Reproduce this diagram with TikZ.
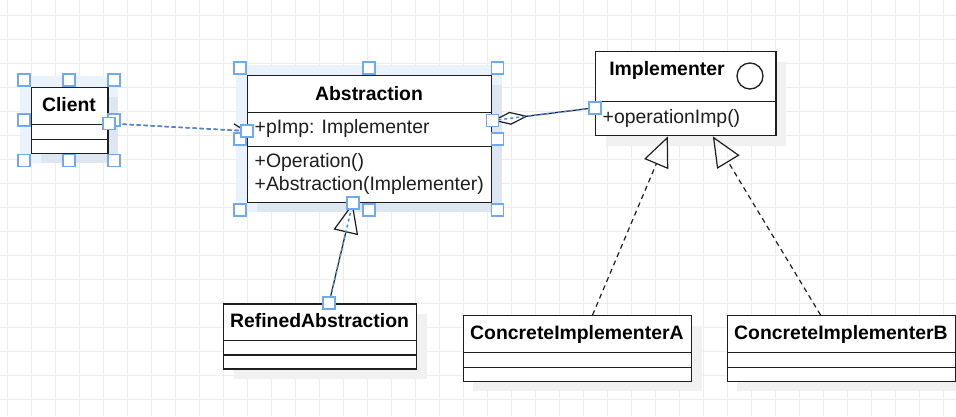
\documentclass[tikz,border=0pt]{standalone}
\usepackage{fontspec}
\setmainfont{Liberation Sans}
\usetikzlibrary{arrows.meta,calc}
\definecolor{gridc}{HTML}{EDEDED}
\definecolor{shadc}{HTML}{F1F1F1}
\definecolor{selc}{HTML}{EAF2FD}
\definecolor{selshad}{HTML}{DDE6F1}
\definecolor{hblue}{HTML}{6FA8F5}
\definecolor{eblue}{HTML}{4A88E0}
\definecolor{ink}{HTML}{1E1E1E}
\begin{document}
\begin{tikzpicture}[x=1pt,y=-1pt,
  cls/.style={draw=ink, line width=1.4pt, fill=white, inner sep=0pt, anchor=north west},
  ctitle/.style={font=\fontsize{19.4}{23}\selectfont\bfseries, anchor=base, inner sep=0pt, text=black},
  member/.style={font=\fontsize{19.4}{23}\selectfont, anchor=base west, inner sep=0pt, text=ink},
  cline/.style={draw=ink, line width=1.4pt},
  hdl/.style={draw=hblue, fill=white, line width=1.8pt, minimum size=12pt, inner sep=0pt},
  selline/.style={draw=eblue, line width=1.5pt, dash pattern=on 3pt off 3pt},
  edge/.style={draw=ink, line width=1.2pt},
  dep/.style={edge, dash pattern=on 5pt off 4pt}]
\clip (0,0) rectangle (956,416);
\fill[white] (0,0) rectangle (956,416);
% grid
\foreach \i in {0,...,39} \draw[gridc, line width=1pt] ({7.7+24*\i},0) -- ({7.7+24*\i},416);
\foreach \j in {0,...,16} \draw[gridc, line width=1pt] (0,{15.3+24*\j}) -- (956,{15.3+24*\j});
% selection highlights and shadows
\fill[selc] (20.2,76.2) rectangle (117.8,162.7);
\fill[selshad] (40.7,96.7) rectangle (117.8,162.7);
\fill[selc] (236.2,64.5) rectangle (501.5,211.7);
\fill[selshad] (256.7,85) rectangle (501.5,211.7);
\fill[shadc] (605.5,61.5) rectangle (786,145.5);
\fill[shadc] (233.5,313.8) rectangle (426.5,378.8);
\fill[shadc] (473.2,325.5) rectangle (701.5,391.2);
\fill[shadc] (737.2,325.5) rectangle (965.5,391.2);
% classes
\node[cls, minimum width=76.6pt, minimum height=66pt] (client) at (30.7,86.7) {};
\draw[cline] (client.west |- 0,124.3) -- (client.east |- 0,124.3);
\draw[cline] (client.west |- 0,139.3) -- (client.east |- 0,139.3);
\node[ctitle] (clientT) at (69,111.8) {Client};

\node[cls, minimum width=244.3pt, minimum height=126.7pt] (abs) at (246.7,75) {};
\draw[cline] (abs.west |- 0,112.3) -- (abs.east |- 0,112.3);
\draw[cline] (abs.west |- 0,146.7) -- (abs.east |- 0,146.7);
\node[ctitle] (absT) at (369,100) {Abstraction};
\node[member] (absA) at (254.5,133.3) {+pImp: Implementer};
\node[member] (absM1) at (254.5,167.8) {+Operation()};
\node[member] (absM2) at (254.5,190.3) {+Abstraction(Implementer)};

\node[cls, minimum width=180.3pt, minimum height=84pt] (impl) at (595,51) {};
\draw[cline] (impl.west |- 0,101.7) -- (impl.east |- 0,101.7);
\node[ctitle] (implT) at (667,75.7) {Implementer};
\node[circle, draw=ink, line width=1.3pt, minimum size=26pt, inner sep=0pt] (implC) at (750,76) {};
\node[member] (implM) at (602.5,123) {+operationImp()};

\node[cls, minimum width=193pt, minimum height=65pt] (ref) at (223,303.3) {};
\draw[cline] (ref.west |- 0,340.7) -- (ref.east |- 0,340.7);
\draw[cline] (ref.west |- 0,355) -- (ref.east |- 0,355);
\node[ctitle] (refT) at (319.5,327.3) {RefinedAbstraction};

\node[cls, minimum width=228.3pt, minimum height=65.7pt] (ca) at (462.7,315) {};
\draw[cline] (ca.west |- 0,352.3) -- (ca.east |- 0,352.3);
\draw[cline] (ca.west |- 0,367.3) -- (ca.east |- 0,367.3);
\node[ctitle] (caT) at (576.9,339.3) {ConcreteImplementerA};

\node[cls, minimum width=228.3pt, minimum height=65.7pt] (cb) at (726.7,315) {};
\draw[cline] (cb.west |- 0,352.3) -- (cb.east |- 0,352.3);
\draw[cline] (cb.west |- 0,367.3) -- (cb.east |- 0,367.3);
\node[ctitle] (cbT) at (840.9,339.3) {ConcreteImplementerB};

% connectors
\draw[edge, dash pattern=on 4pt off 3pt, -{Straight Barb[length=12pt,width=13pt,line width=1.2pt]}] ([yshift=-3pt]client.east) -- ([yshift=8pt]abs.west);
\draw[selline, dash pattern=on 4pt off 3pt, shorten >=4pt] ([yshift=-3pt]client.east) -- ([yshift=8pt]abs.west);

\draw[edge, {Diamond[open,length=36pt,width=13pt,line width=1.2pt]}-] ([yshift=18.5pt]abs.east) -- ([yshift=-14pt]impl.west);
\draw[selline] ([yshift=18.5pt]abs.east) -- ([yshift=-14pt]impl.west);

\draw[edge, -{Triangle[open,length=30pt,width=25pt,line width=1.2pt]}] ([xshift=8.8pt]ref.north) -- ([xshift=-16.85pt]abs.south);
\draw[selline] ([xshift=8.8pt]ref.north) -- ([xshift=-16.85pt]abs.south);

\draw[dep, -{Triangle[open,length=30pt,width=26pt,line width=1.2pt]}] ([xshift=15pt]ca.north) -- ([xshift=-18pt]impl.south);
\draw[dep, -{Triangle[open,length=30pt,width=26pt,line width=1.2pt]}] ([xshift=-21pt]cb.north) -- ([xshift=27pt]impl.south);

% selection handles of the boxes
\node[hdl] (hc1) at (23.7,80) {};
\node[hdl] (hc2) at (69,80) {};
\node[hdl] (hc3) at (113.7,80) {};
\node[hdl] (hc4) at (23.7,120) {};
\node[hdl] (hc5) at (113.7,120) {};
\node[hdl] (hc6) at (23.7,160.5) {};
\node[hdl] (hc7) at (69,160.5) {};
\node[hdl] (hc8) at (113.7,160.5) {};
\node[hdl] (ha1) at (240,68) {};
\node[hdl] (ha2) at (369,68) {};
\node[hdl] (ha3) at (497.5,68) {};
\node[hdl] (ha4) at (240,139) {};
\node[hdl] (ha5) at (497.5,139) {};
\node[hdl] (ha6) at (240,209.7) {};
\node[hdl] (ha7) at (369,209.7) {};
\node[hdl] (ha8) at (497.5,209.7) {};
% selection handles of the edges
\node[hdl] (he1) at ([yshift=-3pt]client.east) {};
\node[hdl] (he2) at ([yshift=8pt]abs.west) {};
\node[hdl] (he3) at ([yshift=18.5pt]abs.east) {};
\node[hdl] (he4) at ([yshift=-14pt]impl.west) {};
\node[hdl] (he5) at ([xshift=8.8pt]ref.north) {};
\node[hdl] (he6) at ([xshift=-16.85pt]abs.south) {};
\end{tikzpicture}
\end{document}
